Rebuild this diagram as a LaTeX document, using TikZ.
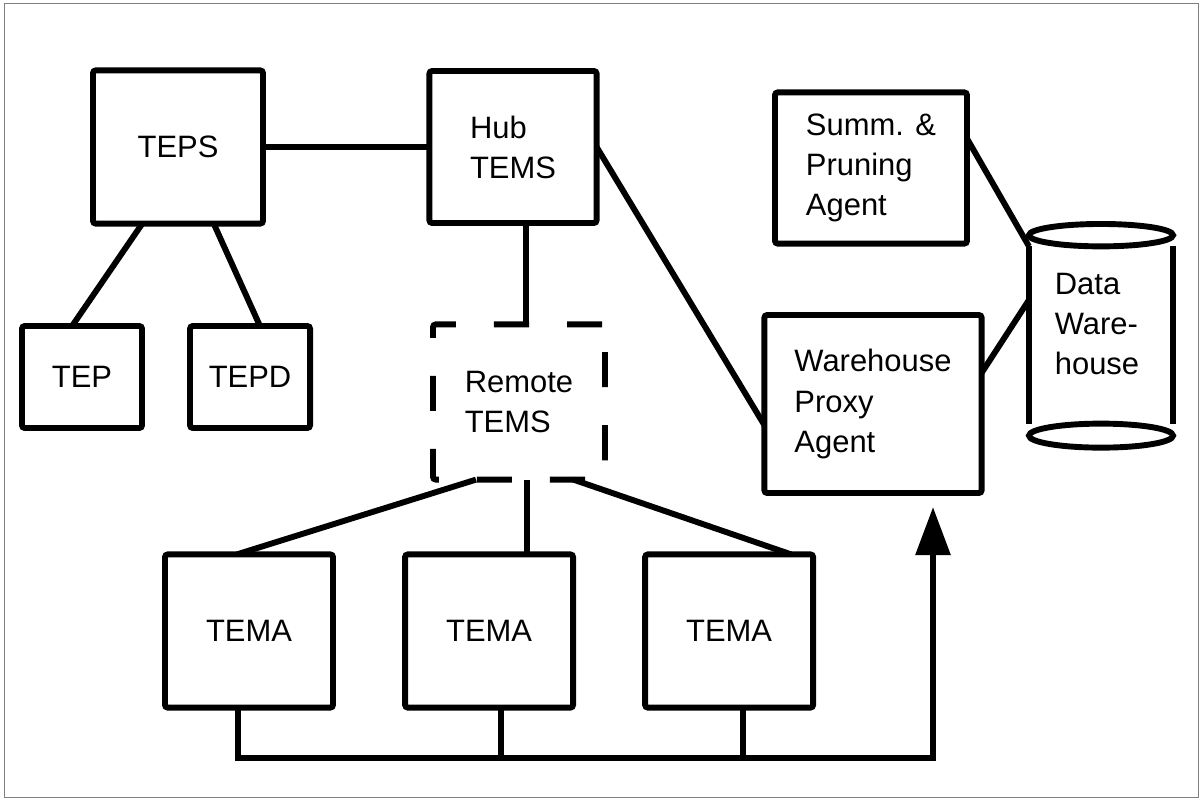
\documentclass[tikz,border=0pt]{standalone}
\usepackage{fontspec}
\setmainfont{Liberation Sans}
\usetikzlibrary{arrows.meta, positioning}
\definecolor{marcoGris}{HTML}{808080}

\begin{document}
\begin{tikzpicture}[x=0.025cm, y=-0.025cm,
        caja/.style={draw, line width=4.2pt, rounded corners=2pt, outer sep=0pt,
            align=left, inner sep=0pt, font=\fontsize{22}{28.5}\selectfont},
        remota/.style={caja, dash pattern=on 25pt off 27pt},
        texto/.style={outer sep=0pt, inner sep=0pt, align=left, font=\fontsize{22}{28.5}\selectfont},
        enlace/.style={line width=4.2pt},
        flujo/.style={enlace, -{Triangle[length=1.2cm, width=0.85cm]}},
        marco/.style={draw=marcoGris, line width=0.7pt}
    ]
        \useasboundingbox (0,0) rectangle (1201,801);
        \draw[marco] (4,3) rectangle (1198,797);

        \node[caja, minimum width=4.25cm, minimum height=3.83cm] (teps) at (178,147) {TEPS};
        \node[caja, minimum width=4.18cm, minimum height=3.8cm] (hub) at (513,147) {Hub\\TEMS};
        \node[caja, minimum width=3cm, minimum height=2.55cm] (tep) at (82,377) {TEP};
        \node[caja, minimum width=3cm, minimum height=2.55cm, right=1.2cm of tep] (tepd) {TEPD};
        \node[remota, minimum width=4.3cm, minimum height=3.88cm] (remote) at (519,402) {Remote\\TEMS};
        \node[caja, minimum width=4.8cm, minimum height=3.78cm] (summ) at (871,168) {Summ. \&\\Pruning\\Agent};
        \node[caja, minimum width=5.43cm, minimum height=4.45cm] (wpa) at (873,404) {Warehouse\\Proxy\\Agent};
        \node[caja, minimum width=4.2cm, minimum height=3.83cm] (tema1) at (249,631) {TEMA};
        \node[caja, minimum width=4.2cm, minimum height=3.83cm, right=1.8cm of tema1] (tema2) {TEMA};
        \node[caja, minimum width=4.2cm, minimum height=3.83cm, right=1.8cm of tema2] (tema3) {TEMA};
        \node[texto, minimum width=3.6cm, minimum height=4.43cm] (dw) at (1101,335) {};
        \node[texto] (dwtexto) at (1097,324) {Data\\Ware-\\house};
        \coordinate (bus) at (933,758);

        \draw[enlace] (dw.north west) -- (dw.south west);
        \draw[enlace] (dw.north east) -- (dw.south east);
        \draw[enlace] ([yshift=0.28cm]dw.north) ellipse [x radius=1.8cm, y radius=0.28cm];
        \draw[enlace] ([yshift=-0.3cm]dw.south) ellipse [x radius=1.8cm, y radius=0.3cm];

        \draw[enlace] (teps) -- (hub);
        \draw[enlace] (teps.245) -- (tep.101);
        \draw[enlace] (teps.295) -- (tepd.79);
        \draw[enlace] (remote.85 |- hub.south) -- (remote.85);
        \draw[enlace] (hub.east) -- (wpa.191);
        \draw[enlace] (summ.17) -- (dw.north west);
        \draw[enlace] (wpa.16) -- (dw.154);
        \draw[enlace] (remote.241) -- (tema1.99);
        \draw[enlace] (remote.276) -- (remote.276 |- tema2.north);
        \draw[enlace] (remote.305) -- (tema3.51);

        \draw[flujo] (tema1.262) |- (bus) -- ([yshift=-0.35cm]wpa.south -| bus);
        \draw[enlace] (tema2.279) -- (tema2.279 |- bus);
        \draw[enlace] (tema3.280) -- (tema3.280 |- bus);
    \end{tikzpicture}
\end{document}
